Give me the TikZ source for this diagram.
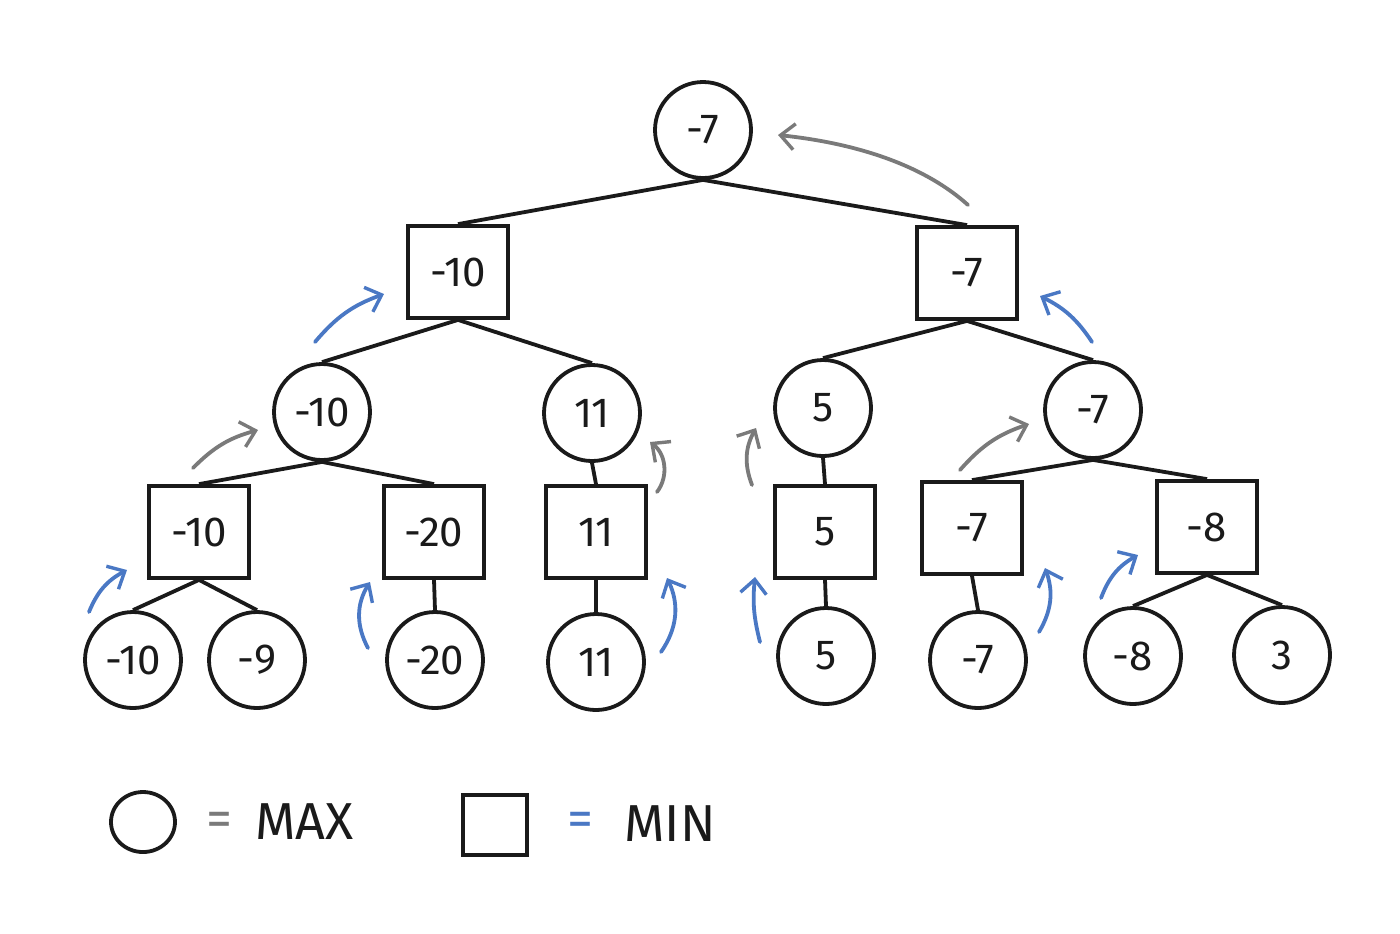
\documentclass[tikz,border=0pt]{standalone}
\usepackage{fontspec}
\setmainfont{Fira Sans}
\usetikzlibrary{arrows.meta,shapes.geometric}
\definecolor{inkblue}{HTML}{4A78C4}
\definecolor{inkgray}{HTML}{7A7A7A}
\definecolor{ink}{HTML}{1A1A1A}
\tikzset{
  every picture/.style={x=0.5pt,y=-0.5pt},
  maxn/.style={circle,draw=ink,line width=1.9pt,minimum size=48pt,inner sep=0pt,
    font=\fontsize{21}{25}\selectfont,text=ink},
  minn/.style={rectangle,draw=ink,line width=1.9pt,minimum width=50pt,minimum height=46pt,inner sep=0pt,
    font=\fontsize{21}{25}\selectfont,text=ink},
  edge/.style={draw=ink,line width=1.9pt},
  barb/.style={-{Straight Barb[length=7pt,width=13pt,line width=1.7pt]},line width=1.9pt,line cap=round},
  bluearr/.style={barb,draw=inkblue},
  grayarr/.style={barb,draw=inkgray},
  legtext/.style={font=\fontsize{26}{30}\selectfont,text=ink,inner sep=0pt},
}
\begin{document}
\begin{tikzpicture}
\useasboundingbox (0,0) rectangle (1400,933);
% level 0
\node[maxn] (r) at (703,130) {-7};
% level 1
\node[minn] (a) at (458,272) {-10};
\node[minn] (b) at (967,273) {-7};
% level 2
\node[maxn] (a1) at (322,412) {-10};
\node[maxn] (a2) at (592,413) {11};
\node[maxn] (b1) at (823,408) {5};
\node[maxn] (b2) at (1093,410) {-7};
% level 3
\node[minn] (c1) at (199,532) {-10};
\node[minn] (c2) at (434,532) {-20};
\node[minn] (c3) at (596,532) {11};
\node[minn] (c4) at (825,532) {5};
\node[minn] (c5) at (972,528) {-7};
\node[minn] (c6) at (1207,527) {-8};
% level 4
\node[maxn] (d1) at (133,660) {-10};
\node[maxn] (d2) at (257,660) {-9};
\node[maxn] (d3) at (435,660) {-20};
\node[maxn] (d4) at (596,662) {11};
\node[maxn] (d5) at (826,656) {5};
\node[maxn] (d6) at (978,660) {-7};
\node[maxn] (d7) at (1133,656) {-8};
\node[maxn] (d8) at (1282,655) {3};
% edges
\draw[edge] (r.south) -- (a.north);
\draw[edge] (r.south) -- (b.north);
\draw[edge] (a.south) -- (a1.north);
\draw[edge] (a.south) -- (a2.north);
\draw[edge] (b.south) -- (b1.north);
\draw[edge] (b.south) -- (b2.north);
\draw[edge] (a1.south) -- (c1.north);
\draw[edge] (a1.south) -- (c2.north);
\draw[edge] (a2.south) -- (c3.north);
\draw[edge] (b1.south) -- (c4.north);
\draw[edge] (b2.south) -- (c5.north);
\draw[edge] (b2.south) -- (c6.north);
\draw[edge] (c1.south) -- (d1.north);
\draw[edge] (c1.south) -- (d2.north);
\draw[edge] (c2.south) -- (d3.north);
\draw[edge] (c3.south) -- (d4.north);
\draw[edge] (c4.south) -- (d5.north);
\draw[edge] (c5.south) -- (d6.north);
\draw[edge] (c6.south) -- (d7.north);
\draw[edge] (c6.south) -- (d8.north);
% arrow coordinates
\coordinate (g0s) at (968,205); \coordinate (g0e) at (778,135);
\coordinate (u1s) at (315,342); \coordinate (u1e) at (384,294);
\coordinate (u2s) at (1092,342); \coordinate (u2e) at (1040,296);
\coordinate (g1s) at (193,468); \coordinate (g1e) at (258,430);
\coordinate (g2s) at (657,492); \coordinate (g2e) at (650,442);
\coordinate (g3s) at (752,485); \coordinate (g3e) at (756,428);
\coordinate (g4s) at (960,470); \coordinate (g4e) at (1029,424);
\coordinate (u3s) at (89,612); \coordinate (u3e) at (127,570);
\coordinate (u4s) at (368,648); \coordinate (u4e) at (370,582);
\coordinate (u5s) at (661,652); \coordinate (u5e) at (667,578);
\coordinate (u6s) at (760,642); \coordinate (u6e) at (755,577);
\coordinate (u7s) at (1039,632); \coordinate (u7e) at (1045,568);
\coordinate (u8s) at (1101,598); \coordinate (u8e) at (1138,555);
% arrows
\draw[grayarr] (g0s) .. controls (927,168) and (863,144) .. (g0e);
\draw[bluearr] (u1s) to[bend left=15] (u1e);
\draw[bluearr] (u2s) to[bend right=15] (u2e);
\draw[grayarr] (g1s) to[bend left=15] (g1e);
\draw[grayarr] (g2s) to[bend right=45] (g2e);
\draw[grayarr] (g3s) to[bend left=25] (g3e);
\draw[grayarr] (g4s) to[bend left=15] (g4e);
\draw[bluearr] (u3s) to[bend left=20] (u3e);
\draw[bluearr] (u4s) to[bend left=30] (u4e);
\draw[bluearr] (u5s) to[bend right=30] (u5e);
\draw[bluearr] (u6s) to[bend left=10] (u6e);
\draw[bluearr] (u7s) to[bend right=25] (u7e);
\draw[bluearr] (u8s) to[bend left=20] (u8e);
% legend
\node[ellipse,draw=ink,line width=1.9pt,minimum width=32pt,minimum height=30pt,inner sep=0pt] (lc) at (143,822) {};
\node[legtext,text=inkgray] (leq1) at (219,824) {=};
\node[legtext,anchor=west] (lmax) at (255,822) {MAX};
\node[rectangle,draw=ink,line width=1.9pt,minimum width=32pt,minimum height=30pt,inner sep=0pt] (ls) at (495,825) {};
\node[legtext,text=inkblue] (leq2) at (580,824) {=};
\node[legtext,anchor=west] (lmin) at (624,824) {MIN};
\end{tikzpicture}
\end{document}
